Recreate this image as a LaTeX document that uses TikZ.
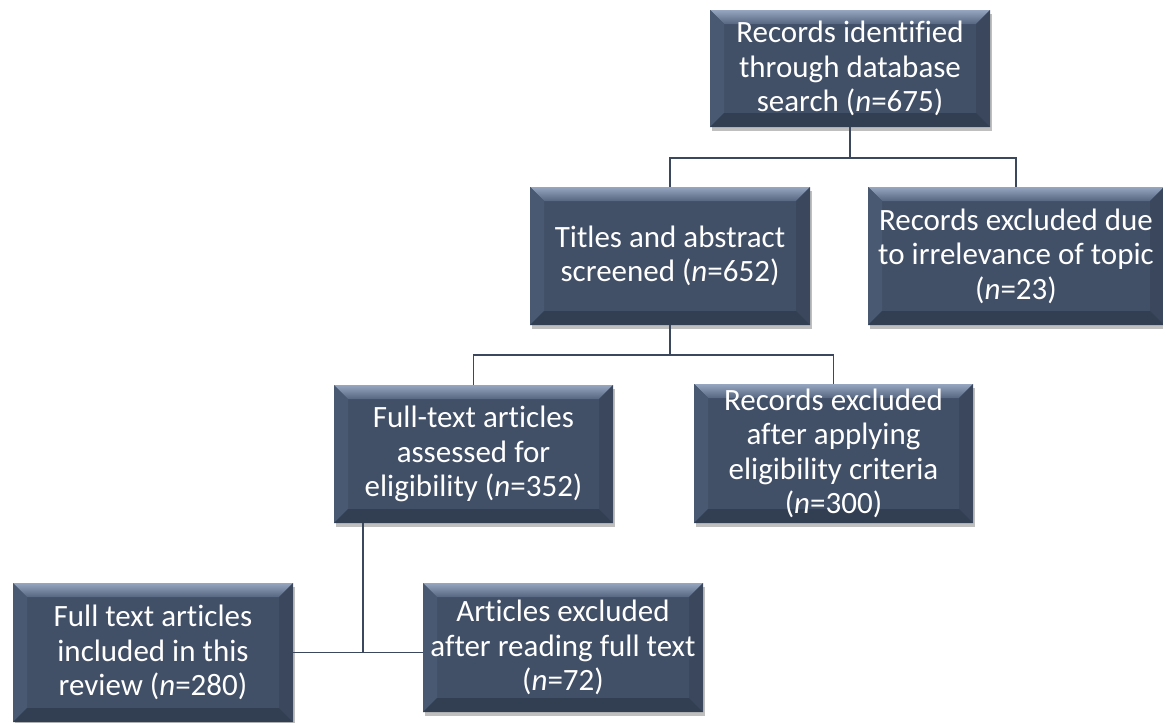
\documentclass[tikz,border=0pt]{standalone}
\usepackage{fontspec}
\setmainfont{Carlito}[Ligatures=NoCommon]
\usepackage{tikz}
\usetikzlibrary{calc,shadows}
\definecolor{facecol}{RGB}{65,79,103}
\definecolor{toplight}{RGB}{150,166,192}
\definecolor{topdark}{RGB}{86,102,128}
\definecolor{leftcol}{RGB}{74,89,114}
\definecolor{rightcol}{RGB}{58,71,93}
\definecolor{botcol}{RGB}{50,62,82}
\definecolor{linkcol}{RGB}{58,71,93}
\newcommand{\bev}{14pt}

\tikzset{
  stage/.style={rectangle, fill=facecol, text=white, align=center, inner sep=0pt,
    font=\fontsize{31}{34.5}\selectfont,
    drop shadow={shadow xshift=2pt, shadow yshift=-4pt, opacity=.25, fill=black},
    path picture={
      \path (path picture bounding box.north west) coordinate (bnw)
            (path picture bounding box.north east) coordinate (bne)
            (path picture bounding box.south west) coordinate (bsw)
            (path picture bounding box.south east) coordinate (bse);
      \shade[top color=toplight, bottom color=topdark] (bnw) -- (bne) -- ([shift={(-\bev,-\bev)}]bne) -- ([shift={(\bev,-\bev)}]bnw) -- cycle;
      \fill[leftcol] (bnw) -- ([shift={(\bev,-\bev)}]bnw) -- ([shift={(\bev,\bev)}]bsw) -- (bsw) -- cycle;
      \fill[rightcol] (bne) -- ([shift={(-\bev,-\bev)}]bne) -- ([shift={(-\bev,\bev)}]bse) -- (bse) -- cycle;
      \fill[botcol] (bsw) -- ([shift={(\bev,\bev)}]bsw) -- ([shift={(-\bev,\bev)}]bse) -- (bse) -- cycle;
    }},
  link/.style={draw=linkcol, line width=1.6pt}
}

\begin{document}
\begin{tikzpicture}[x=1pt, y=-1pt]
\useasboundingbox (0,0) rectangle (1163,723);
%boxes
\node[stage, minimum width=280pt, minimum height=117pt] (search) at (850,68.5) {Records identified\\through database\\search (\textit{n}=675)};
\node[stage, minimum width=280pt, minimum height=138pt] (screen) at (670,256) {Titles and abstract\\screened (\textit{n}=652)};
\node[stage, minimum width=296pt, minimum height=138pt] (topic) at (1016,256) {Records excluded due\\to irrelevance of topic\\(\textit{n}=23)};
\node[stage, minimum width=279pt, minimum height=138pt] (full) at (473.5,454) {Full-text articles\\assessed for\\eligibility (\textit{n}=352)};
\node[stage, minimum width=279pt, minimum height=139pt] (elig) at (833.5,453.5) {Records excluded\\after applying\\eligibility criteria\\(\textit{n}=300)};
\node[stage, minimum width=280pt, minimum height=139pt] (incl) at (153,652.5) {Full text articles\\included in this\\review (\textit{n}=280)};
\node[stage, minimum width=280pt, minimum height=129pt] (read) at (563,647.5) {Articles excluded\\after reading full text\\(\textit{n}=72)};
%links
\draw[link] (search.south) -- ++(0,31) -| (screen.north);
\draw[link] (search.south) -- ++(0,31) -| (topic.north);
\draw[link] (screen.south) -- ++(0,30) -| (full.north);
\draw[link] (screen.south) -- ++(0,30) -| (elig.north);
\coordinate (fork) at ([xshift=29pt]full.south west);
\draw[link] (fork) -- (fork |- incl.east);
\draw[link] (incl.east) -- (read.west |- incl.east);
\end{tikzpicture}
\end{document}
